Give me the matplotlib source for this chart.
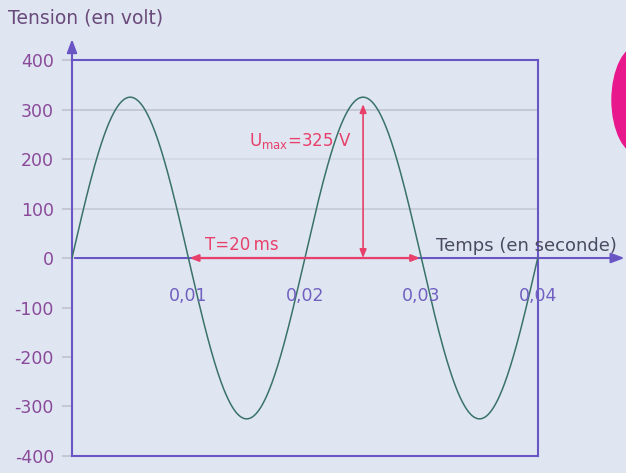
import numpy as np
import matplotlib.pyplot as plt
from matplotlib.patches import Ellipse

# values
u_max = 325          # V
period = 0.02        # s
t_end = 0.04
y_ticks = [400, 300, 200, 100, 0, -100, -200, -300, -400]
x_ticks = [0.01, 0.02, 0.03, 0.04]
x_tick_labels = ['0,01', '0,02', '0,03', '0,04']

purple = '#6a55c4'
red = '#e8406a'
curve_col = '#3a7268'

t = np.linspace(0, t_end, 800)
u = u_max * np.sin(2 * np.pi * t / period)

fig = plt.figure(figsize=(6.26, 4.73), dpi=100, facecolor='#dfe6f2')
ax = fig.add_axes([0.115, 0.036, 0.744, 0.837])
ax.set_facecolor('#dfe6f2')

ax.set_xlim(0, t_end)
ax.set_ylim(-400, 400)

# grid lines (200 barely visible in the scan)
for yv, a in [(300, 0.75), (200, 0.3), (100, 0.6)]:
    ax.axhline(yv, color='#b4b8c4', lw=1.2, alpha=a, zorder=1)

ax.plot(t, u, color=curve_col, lw=1.1, zorder=3)

for s in ax.spines.values():
    s.set_color(purple)
    s.set_linewidth(1.5)

ax.set_xticks([])
ax.set_yticks(y_ticks)
ax.set_yticklabels([str(v) for v in y_ticks], color='#8a4a9a', fontsize=12.5)
ax.tick_params(axis='y', length=7, width=1.2, color='#c0c3cf', pad=6)

# x axis at zero with arrow
ax.annotate('', xy=(0.0477, 0), xytext=(0, 0),
            arrowprops=dict(arrowstyle='-|>,head_length=0.8,head_width=0.3',
                            color=purple, lw=1.5), annotation_clip=False, zorder=2)
# y axis arrow
ax.annotate('', xy=(0, 448), xytext=(0, 395),
            arrowprops=dict(arrowstyle='-|>,head_length=0.8,head_width=0.3',
                            color=purple, lw=1.5), annotation_clip=False)

for xv, lab in zip(x_ticks, x_tick_labels):
    ax.text(xv, -77, lab, color='#7060c0', fontsize=12.5, ha='center', va='center')

ax.text(0.0313, 6, 'Temps (en seconde)', color='#4a4a60', fontsize=13,
        ha='left', va='bottom')
fig.text(8 / 626, 1 - 18 / 473, 'Tension (en volt)', color='#6a4a7a',
         fontsize=13.5, ha='left', va='center')

# period arrow
ax.annotate('', xy=(0.0101, 0), xytext=(0.0299, 0),
            arrowprops=dict(arrowstyle='<|-|>,head_length=0.5,head_width=0.2',
                            color=red, lw=1.6, shrinkA=0, shrinkB=0), zorder=4)
ax.text(0.0114, 8, 'T=20\u2009ms', color=red, fontsize=12, ha='left', va='bottom')
# amplitude arrow
ax.annotate('', xy=(0.025, u_max), xytext=(0.025, 0),
            arrowprops=dict(arrowstyle='<|-|>,head_length=0.5,head_width=0.2',
                            color=red, lw=1.2, shrinkA=0, shrinkB=5), zorder=4)
ax.text(0.0240, 236, r'$\mathregular{U_{max}}$=325 V', color=red, fontsize=12,
        ha='right', va='center')

# pink decoration at right edge
fig.patches.append(Ellipse((640 / 626, 1 - 100 / 473), 56 / 626, 110 / 473,
                           transform=fig.transFigure, color='#e8188c'))

fig.savefig('out.png', dpi=100, facecolor=fig.get_facecolor())
